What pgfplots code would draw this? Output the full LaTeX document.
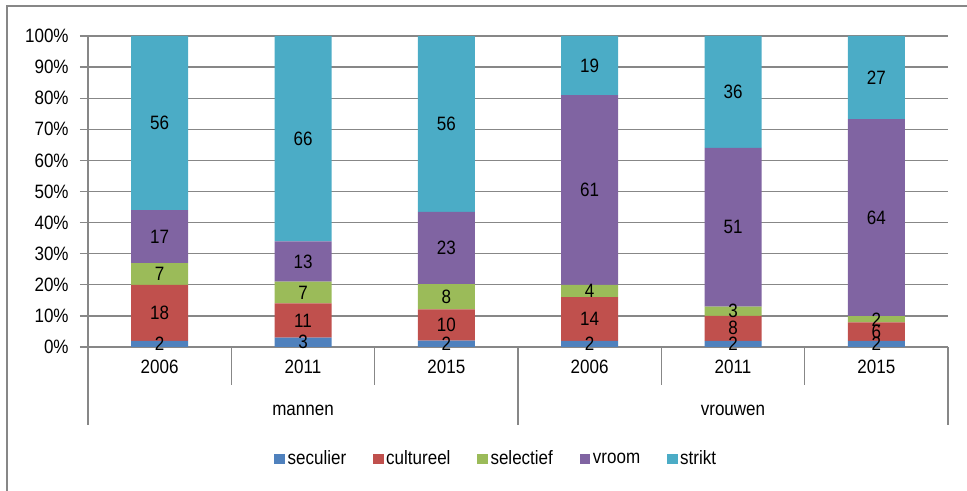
\documentclass[border=0pt]{standalone}
\usepackage{pgfplots}
\usepackage{pgfplotstable}
\pgfplotsset{compat=1.18}
\usepackage{fontspec}
\setmainfont[FakeStretch=0.88]{Liberation Sans}
\definecolor{cSec}{HTML}{4F81BD}
\definecolor{cCul}{HTML}{C0504D}
\definecolor{cSel}{HTML}{9BBB59}
\definecolor{cVro}{HTML}{8064A2}
\definecolor{cStr}{HTML}{4BACC6}
\definecolor{gridgray}{HTML}{878787}
\pgfplotstableread{
x seculier cultureel selectief vroom strikt total
0 2 18 7 17 56 100
1 3 11 7 13 66 100
2 2 10 8 23 56 99
3 2 14 4 61 19 100
4 2 8 3 51 36 100
5 2 6 2 64 27 101
}\data
\begin{document}
\begin{tikzpicture}[font=\fontsize{14.5}{17}\selectfont]
\path[use as bounding box] (0pt,0pt) rectangle (725.25pt,368.25pt);
\draw[gridgray, line width=1.1pt] (5.25pt,0pt) -- (5.25pt,363.75pt) -- (725.25pt,363.75pt);
\begin{axis}[
  at={(66pt,108pt)}, anchor=south west,
  scale only axis, width=645pt, height=233.25pt,
  ybar stacked, bar width=42.75pt,
  xmin=-0.5, xmax=5.5, ymin=0, ymax=100,
  clip=false,
  axis x line*=bottom, axis y line*=left,
  axis line style={gridgray, line width=1pt},
  ytick={0,10,...,100},
  yticklabels={0\%,10\%,20\%,30\%,40\%,50\%,60\%,70\%,80\%,90\%,100\%},
  ymajorgrids, grid style={gridgray, line width=1pt},
  ytick style={gridgray, line width=1pt},
  tick align=outside, major tick length=6pt,
  yticklabel style={xshift=-5pt},
  xtick={0,1,2,3,4,5},
  xticklabels={2006,2011,2015,2006,2011,2015},
  xtick style={draw=none},
  legend style={draw=none, at={(0.475,-0.36)}, anchor=center,
    legend columns=-1, font=\fontsize{14.5}{17}\selectfont,
    /tikz/every even column/.append style={column sep=18pt}},
  legend image code/.code={\fill[#1] (0pt,-4pt) rectangle (8pt,4pt);},
]
\addplot[fill=cSec, draw=none] table[x=x, y expr=\thisrow{seculier}/\thisrow{total}*100] \data;
\addplot[fill=cCul, draw=none] table[x=x, y expr=\thisrow{cultureel}/\thisrow{total}*100] \data;
\addplot[fill=cSel, draw=none] table[x=x, y expr=\thisrow{selectief}/\thisrow{total}*100] \data;
\addplot[fill=cVro, draw=none] table[x=x, y expr=\thisrow{vroom}/\thisrow{total}*100] \data;
\addplot[fill=cStr, draw=none] table[x=x, y expr=\thisrow{strikt}/\thisrow{total}*100] \data;
\legend{seculier,cultureel,selectief,vroom,strikt}
\foreach \s in {0.5,1.5,3.5,4.5} {
  \edef\temp{\noexpand\draw[gridgray, line width=1pt] (axis cs:\s,0) -- ++(0pt,-28.5pt);}
  \temp
}
\foreach \s in {-0.5,2.5,5.5} {
  \edef\temp{\noexpand\draw[gridgray, line width=1pt] (axis cs:\s,0) -- ++(0pt,-58.5pt);}
  \temp
}
\node at ([yshift=-47.25pt]axis cs:1,0) {mannen};
\node at ([yshift=-47.25pt]axis cs:4,0) {vrouwen};
\end{axis}
\begin{axis}[
  at={(66pt,108pt)}, anchor=south west,
  scale only axis, width=645pt, height=233.25pt,
  xmin=-0.5, xmax=5.5, ymin=0, ymax=100,
  hide axis, clip=false,
  nodes near coords, point meta=explicit symbolic,
  every node near coord/.append style={anchor=center, font=\fontsize{14.5}{17}\selectfont, text=black},
]
\addplot[draw=none, mark=none] table[x=x, y expr=(\thisrow{seculier}/2)/\thisrow{total}*100, meta=seculier] \data;
\addplot[draw=none, mark=none] table[x=x, y expr=(\thisrow{seculier}+\thisrow{cultureel}/2)/\thisrow{total}*100, meta=cultureel] \data;
\addplot[draw=none, mark=none] table[x=x, y expr=(\thisrow{seculier}+\thisrow{cultureel}+\thisrow{selectief}/2)/\thisrow{total}*100, meta=selectief] \data;
\addplot[draw=none, mark=none] table[x=x, y expr=(\thisrow{seculier}+\thisrow{cultureel}+\thisrow{selectief}+\thisrow{vroom}/2)/\thisrow{total}*100, meta=vroom] \data;
\addplot[draw=none, mark=none] table[x=x, y expr=(\thisrow{seculier}+\thisrow{cultureel}+\thisrow{selectief}+\thisrow{vroom}+\thisrow{strikt}/2)/\thisrow{total}*100, meta=strikt] \data;
\end{axis}
\end{tikzpicture}
\end{document}
